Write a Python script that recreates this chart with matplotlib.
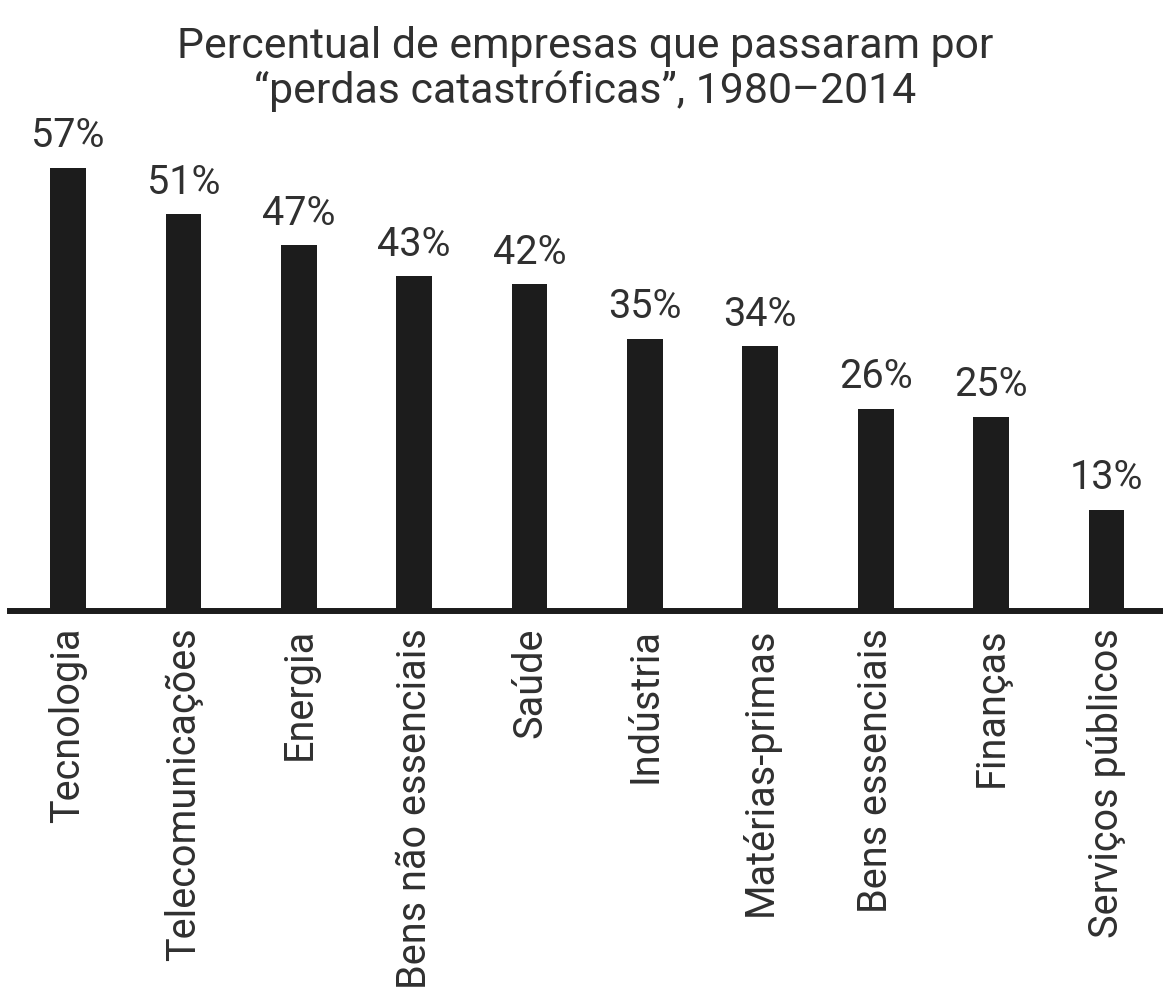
import matplotlib
matplotlib.use("Agg")
import matplotlib.pyplot as plt

categories = ["Tecnologia", "Telecomunicações", "Energia", "Bens não essenciais",
              "Saúde", "Indústria", "Matérias-primas", "Bens essenciais",
              "Finanças", "Serviços públicos"]
values = [57, 51, 47, 43, 42, 35, 34, 26, 25, 13]
value_labels = ["57%", "51%", "47%", "43%", "42%", "35%", "34%", "26%", "25%", "13%"]
title_lines = ["Percentual de empresas que passaram por",
               "“perdas catastróficas”, 1980–2014"]

plt.rcParams['font.family'] = ['Roboto', 'DejaVu Sans']
text_color = "#303030"
bar_color = "#1c1c1c"

W, H = 1163, 990
fig = plt.figure(figsize=(W / 100, H / 100), dpi=100)
fig.patch.set_facecolor("white")

left = 10 / W
bottom = 1 - 611 / H
ax = fig.add_axes([left, bottom, 1 - left, 1 - bottom])
ax.set_facecolor("none")

x = list(range(len(categories)))
bars = ax.bar(x, values, width=0.31, color=bar_color, zorder=2)
ax.bar_label(bars, labels=value_labels, padding=9, fontsize=28.5, color=text_color)

ax.set_xlim(-0.503, 9.49)
ax.set_ylim(0, 611 / 7.78)

for s in ["top", "right", "left"]:
    ax.spines[s].set_visible(False)
ax.spines["bottom"].set_linewidth(4.3)
ax.spines["bottom"].set_color(bar_color)
ax.spines["bottom"].set_zorder(3)
ax.set_yticks([])
ax.set_xticks(x)
ax.set_xticklabels(categories, rotation=90, fontsize=28.5, color=text_color)
ax.tick_params(axis="x", length=0, pad=12)

fig.text(0.503, 1 - 58 / H, title_lines[0], ha="center", va="baseline",
         fontsize=30.8, color=text_color)
fig.text(0.503, 1 - 103 / H, title_lines[1], ha="center", va="baseline",
         fontsize=30.8, color=text_color)

fig.savefig("out.png", dpi=100, facecolor="white")
